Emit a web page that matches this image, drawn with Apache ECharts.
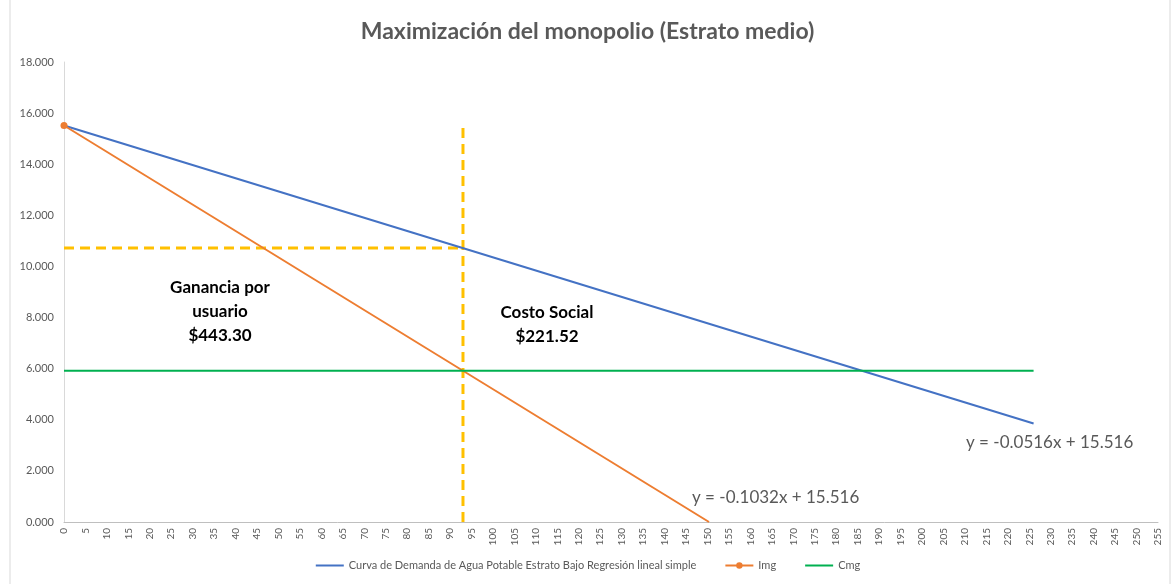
<!DOCTYPE html>
<html>
<head>
<meta charset="utf-8">
<script src="https://cdn.jsdelivr.net/npm/echarts@6/dist/echarts.min.js"></script>
<style>
  html, body { margin: 0; padding: 0; background: #fff; }
  #main { width: 1175px; height: 584px; }
</style>
</head>
<body>
<div id="main"></div>
<script>
// datos
var demanda = [[0, 15.516], [226, 3.854]];          // y = -0.0516x + 15.516
var img = [[0, 15.516], [150.35, 0]];               // y = -0.1032x + 15.516
var cmg = [[0, 5.92], [226, 5.92]];
var corteVertical = [[93, 0], [93, 15.57]];
var corteHorizontal = [[0, 10.72], [93, 10.72]];
var nombres = ['Curva de Demanda de Agua Potable Estrato Bajo Regresión lineal simple', 'Img', 'Cmg'];

var myChart = echarts.init(document.getElementById('main'));
var gris = '#595959';
var fuente = 'Lato, "Open Sans", sans-serif';
var sinSimbolo = { opacity: 0, color: 'rgba(0,0,0,0)', borderWidth: 0 };

var option = {
    textStyle: { fontFamily: fuente },
    animation: false,
    title: {
        text: 'Maximización del monopolio (Estrato medio)',
        left: 'center',
        top: 15,
        textStyle: { color: gris, fontSize: 23, fontWeight: 'bold', fontFamily: fuente }
    },
    grid: { left: 64, right: 17, top: 62, bottom: 62 },
    legend: {
        bottom: 8,
        left: 'center',
        itemWidth: 28,
        itemHeight: 8,
        itemGap: 28,
        data: [
            { name: nombres[0], itemStyle: sinSimbolo },
            { name: nombres[1] },
            { name: nombres[2], itemStyle: sinSimbolo }
        ],
        textStyle: { color: gris, fontSize: 11, fontFamily: fuente }
    },
    xAxis: {
        type: 'value',
        min: 0,
        max: 255,
        interval: 5,
        splitLine: { show: false },
        axisLine: { lineStyle: { color: '#bfbfbf' } },
        axisTick: { show: false },
        axisLabel: { rotate: 90, color: gris, fontSize: 10, margin: 6 }
    },
    yAxis: {
        type: 'value',
        min: 0,
        max: 18,
        interval: 2,
        splitLine: { show: false },
        axisLine: { show: true, lineStyle: { color: '#d9d9d9' } },
        axisTick: { show: false },
        axisLabel: {
            color: gris, fontSize: 11, margin: 10,
            formatter: function (v) { return v.toFixed(3); }
        }
    },
    series: [
        {
            name: nombres[0], type: 'line', data: demanda, symbol: 'none',
            lineStyle: { color: '#4472C4', width: 2 }, itemStyle: { color: '#4472C4' }
        },
        {
            name: nombres[1], type: 'line', symbol: 'circle', symbolSize: 7,
            data: [{ value: img[0] }, { value: img[1], symbol: 'none' }],
            lineStyle: { color: '#ED7D31', width: 2 }, itemStyle: { color: '#ED7D31' }
        },
        {
            name: nombres[2], type: 'line', data: cmg, symbol: 'none',
            lineStyle: { color: '#00B050', width: 2 }, itemStyle: { color: '#00B050' }
        },
        {
            name: 'corteV', type: 'line', data: corteVertical, symbol: 'none', z: 1,
            lineStyle: { color: '#FFC000', width: 3, type: [10, 6] }
        },
        {
            name: 'corteH', type: 'line', data: corteHorizontal, symbol: 'none', z: 1,
            lineStyle: { color: '#FFC000', width: 3, type: [10, 6] }
        }
    ],
    graphic: [
        {
            type: 'rect', silent: true,
            shape: { x: 10, y: -5, width: 1160, height: 600 },
            style: { fill: 'none', stroke: '#d9d9d9', lineWidth: 1 }
        },
        {
            type: 'text', x: 220, y: 276,
            style: { text: 'Ganancia por\nusuario\n$443.30', fill: '#000', fontSize: 17, fontWeight: 'bold',
                     fontFamily: fuente, align: 'center', lineHeight: 24 }
        },
        {
            type: 'text', x: 547, y: 301,
            style: { text: 'Costo Social\n$221.52', fill: '#000', fontSize: 17, fontWeight: 'bold',
                     fontFamily: fuente, align: 'center', lineHeight: 24 }
        },
        {
            type: 'text', x: 966, y: 434,
            style: { text: 'y = -0.0516x + 15.516', fill: gris, fontSize: 17, fontFamily: fuente }
        },
        {
            type: 'text', x: 692, y: 489,
            style: { text: 'y = -0.1032x + 15.516', fill: gris, fontSize: 17, fontFamily: fuente }
        }
    ]
};

myChart.setOption(option);
</script>
</body>
</html>
